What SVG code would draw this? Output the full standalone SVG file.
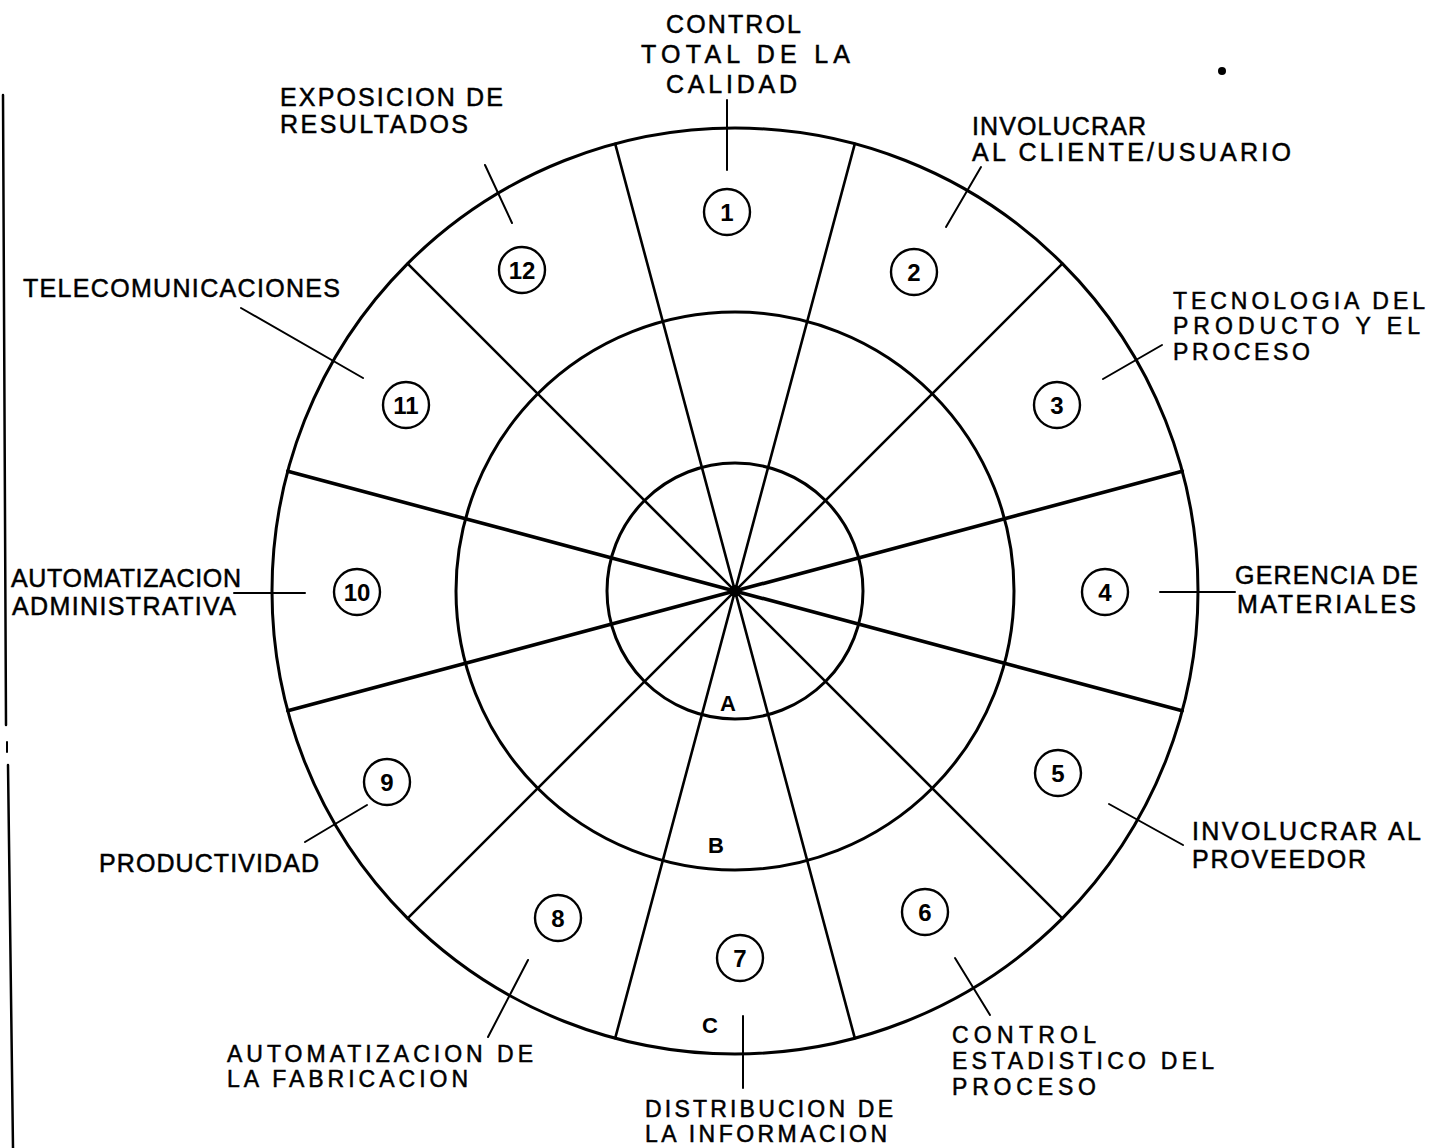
<svg xmlns="http://www.w3.org/2000/svg" width="1431" height="1148" viewBox="0 0 1431 1148">
<style>
.ln{stroke:#000;fill:none;stroke-linecap:round}
.ring{stroke:#000;fill:none;stroke-width:3}
.spoke{stroke:#000;stroke-width:2.6;stroke-linecap:round}
.spokeH{stroke:#000;stroke-width:3.6;stroke-linecap:round}
.lead{stroke:#000;stroke-width:2;fill:none;stroke-linecap:round}
.t{font-family:"Liberation Sans",Arial,sans-serif;font-size:25px;fill:#000;stroke:#000;stroke-width:0.5}
.ts{font-size:23px}
.num{font-family:"Liberation Sans",Arial,sans-serif;font-size:24px;font-weight:bold;fill:#000;text-anchor:middle}
.nc{stroke:#000;stroke-width:2.4;fill:#fff}
.zone{font-family:"Liberation Sans",Arial,sans-serif;font-size:22px;font-weight:bold;fill:#000;text-anchor:middle}
</style>
<rect width="1431" height="1148" fill="#fff"/>
<g id="page-edge">
<line class="ln" x1="3" y1="95" x2="6" y2="725" stroke-width="2.5"/>
<line class="ln" x1="7" y1="742" x2="7" y2="752" stroke-width="2"/>
<line class="ln" x1="8" y1="765" x2="13" y2="1148" stroke-width="2.5"/>
<circle cx="1222" cy="71" r="4" fill="#000"/>
</g>
<g id="wheel">
<circle class="ring" cx="735" cy="591" r="463"/>
<circle class="ring" cx="735" cy="591" r="279"/>
<circle class="ring" cx="735" cy="591" r="128"/>
<line class="spoke" x1="854.8" y1="143.8" x2="615.2" y2="1038.2"/>
<line class="spoke" x1="1062.4" y1="263.6" x2="407.6" y2="918.4"/>
<line class="spokeH" x1="1182.2" y1="471.2" x2="287.8" y2="710.8"/>
<line class="spokeH" x1="1182.2" y1="710.8" x2="287.8" y2="471.2"/>
<line class="spoke" x1="1062.4" y1="918.4" x2="407.6" y2="263.6"/>
<line class="spoke" x1="854.8" y1="1038.2" x2="615.2" y2="143.8"/>
<circle cx="735" cy="591" r="6" fill="#000"/>
<text class="zone" x="728" y="711">A</text>
<text class="zone" x="716" y="853">B</text>
<text class="zone" x="710" y="1033">C</text>
</g>
<g id="connectors">
<line class="lead" x1="727" y1="100" x2="727" y2="170"/>
<line class="lead" x1="485" y1="165" x2="512" y2="223"/>
<line class="lead" x1="981" y1="167" x2="946" y2="227"/>
<line class="lead" x1="1162" y1="345" x2="1103" y2="379"/>
<line class="lead" x1="1160" y1="592" x2="1235" y2="592"/>
<line class="lead" x1="1109" y1="804" x2="1183" y2="845"/>
<line class="lead" x1="955" y1="958" x2="990" y2="1015"/>
<line class="lead" x1="743" y1="1016" x2="743" y2="1088"/>
<line class="lead" x1="528" y1="960" x2="488" y2="1037"/>
<line class="lead" x1="305" y1="842" x2="367" y2="805"/>
<line class="lead" x1="234" y1="593" x2="305" y2="593"/>
<line class="lead" x1="241" y1="308" x2="363" y2="378"/>
</g>
<g id="node-1"><circle class="nc" cx="727" cy="212" r="23"/><text class="num" x="727" y="221">1</text>
<text class="t" x="666" y="33" textLength="135" lengthAdjust="spacing">CONTROL</text>
<text class="t" x="641" y="63" textLength="209" lengthAdjust="spacing">TOTAL DE LA</text>
<text class="t" x="666" y="93" textLength="131" lengthAdjust="spacing">CALIDAD</text></g>
<g id="node-2"><circle class="nc" cx="914" cy="272" r="23"/><text class="num" x="914" y="281">2</text>
<text class="t" x="972" y="135" textLength="174" lengthAdjust="spacing">INVOLUCRAR</text>
<text class="t" x="972" y="161" textLength="319" lengthAdjust="spacing">AL CLIENTE/USUARIO</text></g>
<g id="node-3"><circle class="nc" cx="1057" cy="405" r="23"/><text class="num" x="1057" y="414">3</text>
<text class="t ts" x="1173" y="309" textLength="252" lengthAdjust="spacing">TECNOLOGIA DEL</text>
<text class="t ts" x="1173" y="334" textLength="247" lengthAdjust="spacing">PRODUCTO Y EL</text>
<text class="t ts" x="1173" y="360" textLength="137" lengthAdjust="spacing">PROCESO</text></g>
<g id="node-4"><circle class="nc" cx="1105" cy="592" r="23"/><text class="num" x="1105" y="601">4</text>
<text class="t" x="1235" y="584" textLength="183" lengthAdjust="spacing">GERENCIA DE</text>
<text class="t" x="1237" y="613" textLength="179" lengthAdjust="spacing">MATERIALES</text></g>
<g id="node-5"><circle class="nc" cx="1058" cy="773" r="23"/><text class="num" x="1058" y="782">5</text>
<text class="t" x="1192" y="840" textLength="229" lengthAdjust="spacing">INVOLUCRAR AL</text>
<text class="t" x="1192" y="868" textLength="174" lengthAdjust="spacing">PROVEEDOR</text></g>
<g id="node-6"><circle class="nc" cx="925" cy="912" r="23"/><text class="num" x="925" y="921">6</text>
<text class="t ts" x="952" y="1043" textLength="144" lengthAdjust="spacing">CONTROL</text>
<text class="t ts" x="952" y="1069" textLength="262" lengthAdjust="spacing">ESTADISTICO DEL</text>
<text class="t ts" x="952" y="1095" textLength="144" lengthAdjust="spacing">PROCESO</text></g>
<g id="node-7"><circle class="nc" cx="740" cy="958" r="23"/><text class="num" x="740" y="967">7</text>
<text class="t ts" x="645" y="1117" textLength="248" lengthAdjust="spacing">DISTRIBUCION DE</text>
<text class="t ts" x="645" y="1142" textLength="242" lengthAdjust="spacing">LA INFORMACION</text></g>
<g id="node-8"><circle class="nc" cx="558" cy="918" r="23"/><text class="num" x="558" y="927">8</text>
<text class="t ts" x="227" y="1062" textLength="306" lengthAdjust="spacing">AUTOMATIZACION DE</text>
<text class="t ts" x="227" y="1087" textLength="241" lengthAdjust="spacing">LA FABRICACION</text></g>
<g id="node-9"><circle class="nc" cx="387" cy="782" r="23"/><text class="num" x="387" y="791">9</text>
<text class="t" x="99" y="872" textLength="220" lengthAdjust="spacing">PRODUCTIVIDAD</text></g>
<g id="node-10"><circle class="nc" cx="357" cy="592" r="23"/><text class="num" x="357" y="601">10</text>
<text class="t" x="11" y="587" textLength="230" lengthAdjust="spacing">AUTOMATIZACION</text>
<text class="t" x="12" y="615" textLength="224" lengthAdjust="spacing">ADMINISTRATIVA</text></g>
<g id="node-11"><circle class="nc" cx="406" cy="405" r="23"/><text class="num" x="406" y="414">11</text>
<text class="t" x="23" y="297" textLength="317" lengthAdjust="spacing">TELECOMUNICACIONES</text></g>
<g id="node-12"><circle class="nc" cx="522" cy="270" r="23"/><text class="num" x="522" y="279">12</text>
<text class="t" x="280" y="106" textLength="223" lengthAdjust="spacing">EXPOSICION DE</text>
<text class="t" x="280" y="133" textLength="188" lengthAdjust="spacing">RESULTADOS</text></g>
</svg>
